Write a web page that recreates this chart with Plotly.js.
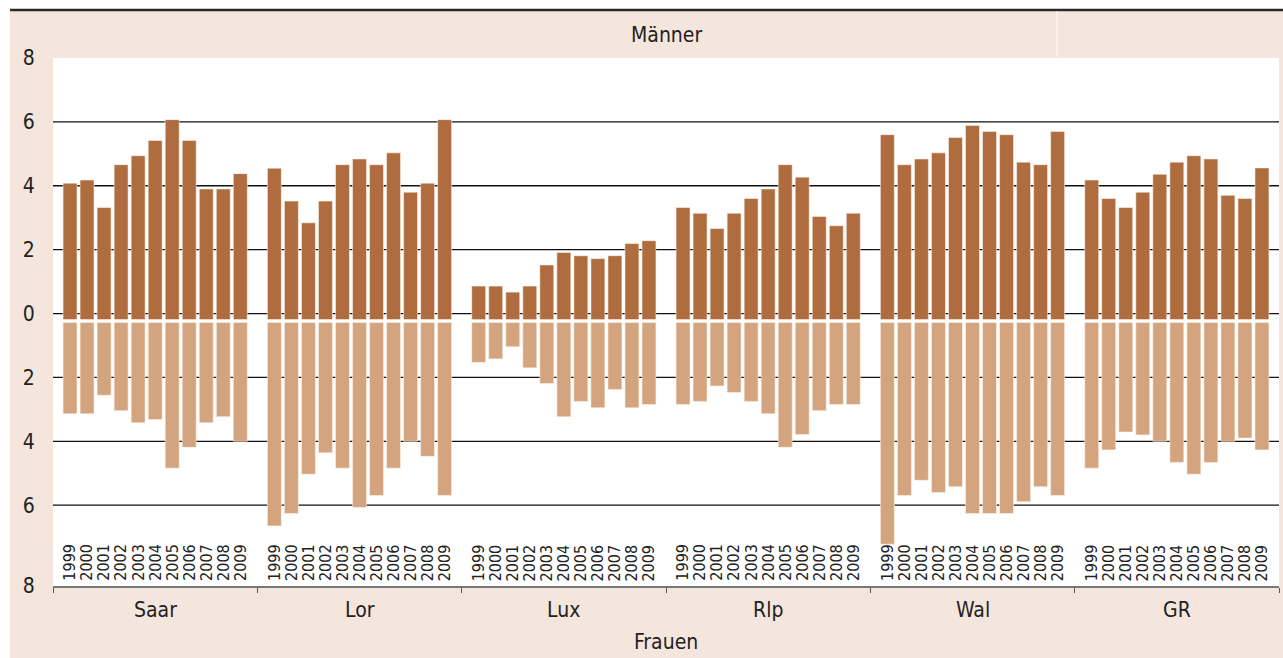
<!DOCTYPE html>
<html>
<head>
<meta charset="utf-8">
<script src="https://cdn.plot.ly/plotly-3.0.1.min.js"></script>
<style>html,body{margin:0;padding:0;background:#fff;}#chart{width:1283px;height:658px;}</style>
</head>
<body>
<div id="chart"></div>
<script>
// ---- data ----
const regions = ['Saar', 'Lor', 'Lux', 'Rlp', 'Wal', 'GR'];
const years = ['1999','2000','2001','2002','2003','2004','2005','2006','2007','2008','2009'];
const yTickLabels = ['8','6','4','2','0','2','4','6','8'];

const menSaar = [4.08, 4.18, 3.32, 4.66, 4.94, 5.42, 6.07, 5.42, 3.90, 3.90, 4.38];
const menLor  = [4.55, 3.52, 2.84, 3.52, 4.66, 4.84, 4.66, 5.03, 3.80, 4.08, 6.07];
const menLux  = [0.86, 0.86, 0.67, 0.86, 1.52, 1.91, 1.81, 1.72, 1.81, 2.19, 2.28];
const menRlp  = [3.32, 3.14, 2.66, 3.14, 3.60, 3.90, 4.66, 4.27, 3.04, 2.75, 3.14];
const menWal  = [5.60, 4.66, 4.84, 5.03, 5.51, 5.89, 5.70, 5.60, 4.74, 4.66, 5.70];
const menGR   = [4.18, 3.60, 3.32, 3.80, 4.36, 4.74, 4.94, 4.84, 3.70, 3.60, 4.56];

const womenSaar = [3.14, 3.14, 2.56, 3.04, 3.42, 3.32, 4.84, 4.19, 3.42, 3.23, 4.00];
const womenLor  = [6.65, 6.26, 5.03, 4.36, 4.84, 6.07, 5.70, 4.84, 4.00, 4.47, 5.70];
const womenLux  = [1.53, 1.42, 1.04, 1.70, 2.19, 3.23, 2.75, 2.95, 2.38, 2.95, 2.85];
const womenRlp  = [2.85, 2.75, 2.27, 2.47, 2.75, 3.14, 4.19, 3.79, 3.04, 2.85, 2.85];
const womenWal  = [7.22, 5.70, 5.22, 5.60, 5.42, 6.26, 6.26, 6.26, 5.89, 5.42, 5.70];
const womenGR   = [4.84, 4.27, 3.71, 3.80, 4.00, 4.66, 5.03, 4.66, 4.00, 3.90, 4.27];

const menAll = [menSaar, menLor, menLux, menRlp, menWal, menGR];
const womenAll = [womenSaar, womenLor, womenLux, womenRlp, womenWal, womenGR];

// ---- styling constants ----
const FONT = '"Liberation Sans Narrow", "DejaVu Sans Condensed", "Arial Narrow", sans-serif';
const MEN_COLOR = '#ae6c3f';
const WOMEN_COLOR = '#d4a47f';
const BEIGE = '#f4e6dc';
const MEN_BASE = -0.19;   // visual gap under the zero line
const WOMEN_BASE = -0.28;
const SLOT = 12;          // 11 years + 1 gap per region
const Y_MIN = -8.53, Y_MAX = 8;
const X_MIN = -1, X_MAX = regions.length * SLOT - 1;

// ---- build traces ----
const xs = [], menY = [], womenY = [], hoverM = [], hoverF = [];
regions.forEach((r, g) => {
  years.forEach((yr, j) => {
    xs.push(g * SLOT + j);
    menY.push(menAll[g][j] - MEN_BASE);
    womenY.push(-(womenAll[g][j] + WOMEN_BASE));
    hoverM.push(r + ' ' + yr + ': ' + menAll[g][j]);
    hoverF.push(r + ' ' + yr + ': ' + womenAll[g][j]);
  });
});

const traces = [
  { type: 'bar', name: 'Männer', x: xs, y: menY, base: MEN_BASE, width: 0.82,
    marker: { color: MEN_COLOR, line: { color: 'rgba(255,245,238,0.55)', width: 1 } },
    hovertext: hoverM, hoverinfo: 'text' },
  { type: 'bar', name: 'Frauen', x: xs, y: womenY, base: WOMEN_BASE, width: 0.82,
    marker: { color: WOMEN_COLOR, line: { color: 'rgba(255,245,238,0.55)', width: 1 } },
    hovertext: hoverF, hoverinfo: 'text' }
];

// ---- pixel helpers for decoration in margins ----
const W = 1283, H = 658, L = 53, R = 4, T = 58, B = 72;
const PW = W - L - R, PH = H - T - B;
const px = x => (x - L) / PW;
const py = y => (H - B - y) / PH;

const shapes = [
  { type: 'rect', xref: 'paper', yref: 'paper', x0: px(10), x1: px(W + 5), y0: py(11), y1: py(H + 5),
    fillcolor: BEIGE, line: { width: 0 }, layer: 'below' },
  { type: 'line', xref: 'paper', yref: 'paper', x0: px(10), x1: px(W + 5), y0: py(10), y1: py(10),
    line: { color: '#2a2a2a', width: 2.5 }, layer: 'below' },
  { type: 'line', xref: 'paper', yref: 'paper', x0: px(1057), x1: px(1057), y0: py(11), y1: py(57),
    line: { color: 'rgba(255,255,255,0.8)', width: 1 }, layer: 'below' },
  // white plotting area
  { type: 'rect', xref: 'x', yref: 'y', x0: X_MIN, x1: X_MAX, y0: Y_MIN, y1: Y_MAX,
    fillcolor: '#ffffff', line: { width: 0 }, layer: 'below' }
];
[6, 4, 2, 0, -2, -4, -6].forEach(v => {
  shapes.push({ type: 'line', xref: 'x', yref: 'y', x0: X_MIN, x1: X_MAX, y0: v, y1: v,
    line: { color: '#111', width: 1.3 }, layer: 'below' });
});

const annotations = [];
xs.forEach((x, i) => {
  annotations.push({ x: x, y: -8.44, xref: 'x', yref: 'y', text: years[i % years.length],
    textangle: -90, showarrow: false, xanchor: 'center', yanchor: 'bottom',
    font: { family: FONT, size: 16, color: '#222' } });
});
regions.forEach((r, g) => {
  annotations.push({ x: g * SLOT + 5, y: py(610), xref: 'x', yref: 'paper', text: r,
    showarrow: false, xanchor: 'center', yanchor: 'middle',
    font: { family: FONT, size: 21, color: '#222' } });
});
annotations.push({ x: 0.5, y: py(35), xref: 'paper', yref: 'paper', text: 'Männer', showarrow: false,
  xanchor: 'center', yanchor: 'middle', font: { family: FONT, size: 21, color: '#222' } });
annotations.push({ x: 0.5, y: py(642), xref: 'paper', yref: 'paper', text: 'Frauen', showarrow: false,
  xanchor: 'center', yanchor: 'middle', font: { family: FONT, size: 21, color: '#222' } });

const tickBounds = regions.map((r, g) => g * SLOT - 1).concat([X_MAX]);

const layout = {
  width: W, height: H,
  margin: { l: L, r: R, t: T, b: B, pad: 0 },
  paper_bgcolor: '#ffffff', plot_bgcolor: '#ffffff',
  showlegend: false, barmode: 'overlay',
  font: { family: FONT, color: '#222' },
  xaxis: { range: [X_MIN, X_MAX], showgrid: false, zeroline: false,
    tickmode: 'array', tickvals: tickBounds, ticktext: tickBounds.map(() => ''),
    ticks: 'outside', ticklen: 5, tickcolor: '#555', tickwidth: 1,
    showline: true, linecolor: '#777', linewidth: 1.5, fixedrange: true },
  yaxis: { range: [Y_MIN, Y_MAX], showgrid: false, zeroline: false, showline: false,
    tickmode: 'array', tickvals: [8, 6, 4, 2, 0, -2, -4, -6, Y_MIN], ticktext: yTickLabels,
    ticks: 'outside', ticklen: 13, tickcolor: 'rgba(0,0,0,0)',
    tickfont: { family: FONT, size: 21, color: '#222' }, fixedrange: true },
  shapes: shapes,
  annotations: annotations
};

Plotly.newPlot('chart', traces, layout, { displayModeBar: false, staticPlot: true });
</script>
</body>
</html>
